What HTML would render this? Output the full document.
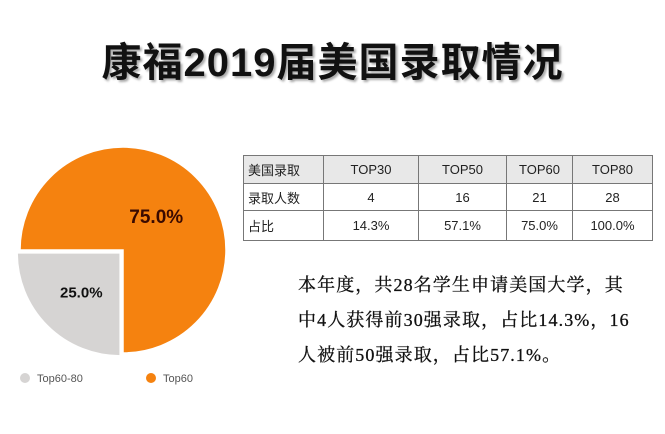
<!DOCTYPE html>
<html><head><meta charset="utf-8"><style>
body{margin:0;width:665px;height:434px;background:#fff;overflow:hidden;position:relative;font-family:"Liberation Sans","Noto Sans CJK SC",sans-serif}
#title{position:absolute;left:0;width:665px;top:30px;text-align:center;font-size:40px;font-weight:bold;color:#111;text-shadow:2px 2px 2px #aaa;letter-spacing:1px}
table{position:absolute;left:243px;top:155px;border-collapse:collapse;font-size:13px;color:#222}
td{border:1px solid #777;text-align:center;padding:0}
td.f{text-align:left;padding-left:4px}
tr.h td{background:#e8e8e8}
#para{position:absolute;left:298px;top:268px;width:360px;font-family:"Liberation Serif","Noto Serif CJK SC",serif;font-size:18px;letter-spacing:1.1px;line-height:35px;color:#111;white-space:nowrap;-webkit-text-stroke:0.3px #111}
</style></head><body>
<div id="title">康福2019届美国录取情况</div>
<svg id="pie" width="240" height="400" style="position:absolute;left:0;top:0"></svg>
<table>
<tr class="h" style="height:28px"><td class="f" style="width:75px">美国录取</td><td style="width:94px">TOP30</td><td style="width:87px">TOP50</td><td style="width:65px">TOP60</td><td style="width:79px">TOP80</td></tr>
<tr style="height:27px"><td class="f">录取人数</td><td>4</td><td>16</td><td>21</td><td>28</td></tr>
<tr style="height:30px"><td class="f">占比</td><td>14.3%</td><td>57.1%</td><td>75.0%</td><td>100.0%</td></tr>
</table>
<div id="para">本年度，共28名学生申请美国大学，其<br>中4人获得前30强录取，占比14.3%，16<br>人被前50强录取，占比57.1%。</div>
<script>
const categories=["Top60-80","Top60"];
const values=[25,75];
const colors=["#d6d4d3","#f5820f"];
const svg=document.getElementById('pie');
const NS="http://www.w3.org/2000/svg";
const cx=123,cy=250,r=103;
const total=values.reduce((a,b)=>a+b,0);
let start=Math.PI/2;
values.forEach((v,i)=>{
  const a=v/total*2*Math.PI,end=start+a,mid=start+a/2;
  const off=i===0?4:0;
  const ox=cx+off*Math.cos(mid),oy=cy+off*Math.sin(mid);
  const p=document.createElementNS(NS,'path');
  const x1=ox+r*Math.cos(start),y1=oy+r*Math.sin(start),x2=ox+r*Math.cos(end),y2=oy+r*Math.sin(end);
  p.setAttribute('d',`M${ox},${oy}L${x1},${y1}A${r},${r} 0 ${a>Math.PI?1:0} 1 ${x2},${y2}Z`);
  p.setAttribute('fill',colors[i]);
  p.setAttribute('stroke','#fff');p.setAttribute('stroke-width','1.5');
  
  
  svg.appendChild(p);
  const t=document.createElementNS(NS,'text');
  const lr=i===0?55:47;
  t.setAttribute('x',ox+lr*Math.cos(mid));t.setAttribute('y',oy+lr*Math.sin(mid)+6);
  t.setAttribute('text-anchor','middle');t.setAttribute('font-weight','bold');
  t.setAttribute('font-size',i===0?'15':'19');t.setAttribute('fill',i===0?'#111':'#3a0a00');
  t.setAttribute('font-family','Liberation Sans, sans-serif');
  t.textContent=v.toFixed(1)+'%';
  
  
  svg.appendChild(t);
  start=end;
});
const legX=[25,151];
categories.forEach((c,i)=>{
  const g=document.createElementNS(NS,'g');
  
  
  const ci=document.createElementNS(NS,'circle');
  ci.setAttribute('cx',legX[i]);ci.setAttribute('cy',378);ci.setAttribute('r',5);ci.setAttribute('fill',colors[i]);
  g.appendChild(ci);
  const t=document.createElementNS(NS,'text');
  t.setAttribute('x',legX[i]+12);t.setAttribute('y',382);t.setAttribute('font-size','11');t.setAttribute('fill','#555');
  t.setAttribute('font-family','Liberation Sans, sans-serif');
  t.textContent=c;g.appendChild(t);
  svg.appendChild(g);
});
</script>
</body></html>
